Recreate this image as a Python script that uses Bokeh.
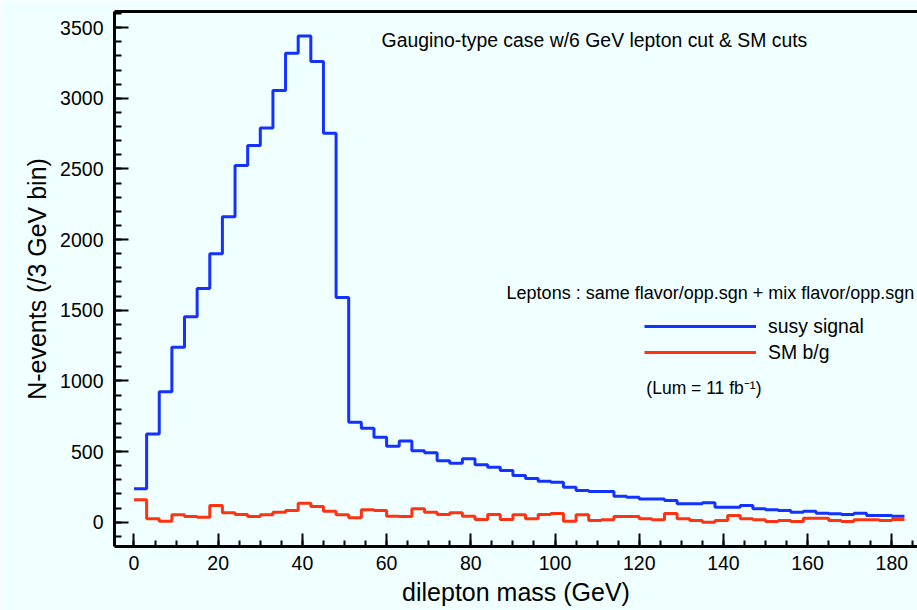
from bokeh.plotting import figure
from bokeh.models import LinearAxis, FixedTicker, Range1d, Label, Legend, LegendItem
from bokeh.embed import file_html
from bokeh.resources import INLINE

# ---- data (3 GeV bins, lower edges) ----
bin_width = 3
bin_lo = list(range(0, 183, 3))
susy_signal = [236, 625, 923, 1238, 1453, 1654, 1899, 2161, 2525, 2666,
               2789, 3055, 3319, 3440, 3260, 2753, 1590, 708, 665, 602,
               537, 575, 505, 492, 434, 418, 449, 406, 389, 366,
               331, 310, 290, 283, 248, 224, 217, 217, 184, 177,
               165, 165, 154, 130, 130, 137, 106, 106, 118, 95,
               88, 83, 71, 78, 64, 59, 54, 64, 47, 47,
               42]
sm_bg = [158, 24, 7, 52, 40, 35, 118, 66, 54, 40,
         52, 71, 83, 134, 111, 78, 52, 31, 88, 83,
         42, 40, 95, 71, 54, 66, 42, 19, 54, 19,
         52, 24, 54, 62, 7, 52, 12, 17, 40, 40,
         24, 17, 62, 24, 12, 0, 12, 47, 24, 17,
         5, 12, 5, 28, 28, 12, 5, 17, 17, 12,
         19]
x_ticks = [0, 20, 40, 60, 80, 100, 120, 140, 160, 180]
y_ticks = [0, 500, 1000, 1500, 2000, 2500, 3000, 3500]
series_names = ["susy signal", "SM b/g"]

edges = bin_lo + [bin_lo[-1] + bin_width]
susy_y = susy_signal + [susy_signal[-1]]
sm_y = sm_bg + [sm_bg[-1]]

BG = "#F0FFFF"
FONT = "Liberation Sans"
BLUE = "#1432FF"
RED = "#FF3311"

p = figure(width=917, height=610,
           x_range=Range1d(-4.63, 186.1), y_range=Range1d(-172, 3614),
           output_backend="svg", toolbar_location=None,
           min_border_left=114, min_border_right=0, min_border_top=11, min_border_bottom=64,
           background_fill_color=BG, border_fill_color=BG, outline_line_color=None)
p.grid.visible = False

r_susy = p.step(edges, susy_y, mode="after", line_color=BLUE, line_width=3)
r_sm = p.step(edges, sm_y, mode="after", line_color=RED, line_width=3)

# axes
xa = p.xaxis[0]
xa.ticker = FixedTicker(ticks=x_ticks, minor_ticks=list(range(-5, 190, 5)))
ya = p.yaxis[0]
ya.ticker = FixedTicker(ticks=y_ticks, minor_ticks=list(range(-100, 3700, 100)))
for ax in (xa, ya):
    ax.axis_line_color = "black"
    ax.axis_line_width = 3
    ax.major_tick_line_color = "black"
    ax.major_tick_line_width = 2
    ax.minor_tick_line_color = "black"
    ax.minor_tick_line_width = 2
    ax.major_tick_out = 0
    ax.minor_tick_out = 0
    ax.major_label_text_font = FONT
    ax.major_label_text_font_size = "19.5px"
    ax.major_label_text_color = "black"
    ax.axis_label_text_font = FONT
    ax.axis_label_text_font_style = "normal"
    ax.axis_label_text_color = "black"
xa.axis_label_text_font_size = "25px"
ya.axis_label_text_font_size = "25px"
xa.major_tick_in = 13
xa.minor_tick_in = 6
ya.major_tick_in = 14
ya.minor_tick_in = 7
xa.major_label_standoff = 9
ya.major_label_standoff = 11
xa.axis_label = "dilepton mass (GeV)"
ya.axis_label = "N-events (/3 GeV bin)"
xa.axis_label_standoff = 5
ya.axis_label_standoff = 6

top = LinearAxis(ticker=FixedTicker(ticks=[]), axis_line_color="black", axis_line_width=3,
                 major_tick_out=0, minor_tick_out=0, major_label_standoff=0)
p.add_layout(top, "above")

# annotations
p.add_layout(Label(x=58.8, y=3409, text="Gaugino-type case w/6 GeV lepton cut & SM cuts",
                   text_font=FONT, text_font_size="19.4px", text_baseline="middle", text_color="black"))
p.add_layout(Label(x=88.5, y=1619, text="Leptons : same flavor/opp.sgn + mix flavor/opp.sgn",
                   text_font=FONT, text_font_size="18px", text_baseline="middle", text_color="black"))
p.add_layout(Label(x=121.7, y=953, text="(Lum = 11 fb\u207b\u00b9)",
                   text_font=FONT, text_font_size="17.5px", text_baseline="middle", text_color="black"))

legend = Legend(items=[LegendItem(label=series_names[0], renderers=[r_susy]),
                       LegendItem(label=series_names[1], renderers=[r_sm])],
                location=(530, 181), glyph_width=112, glyph_height=26, label_height=26,
                label_standoff=12, spacing=0, padding=0, margin=0,
                border_line_alpha=0, background_fill_alpha=0,
                label_text_font=FONT, label_text_font_size="19.4px", label_text_color="black")
p.add_layout(legend, "center")

open("out.html", "w").write(file_html(p, INLINE))
